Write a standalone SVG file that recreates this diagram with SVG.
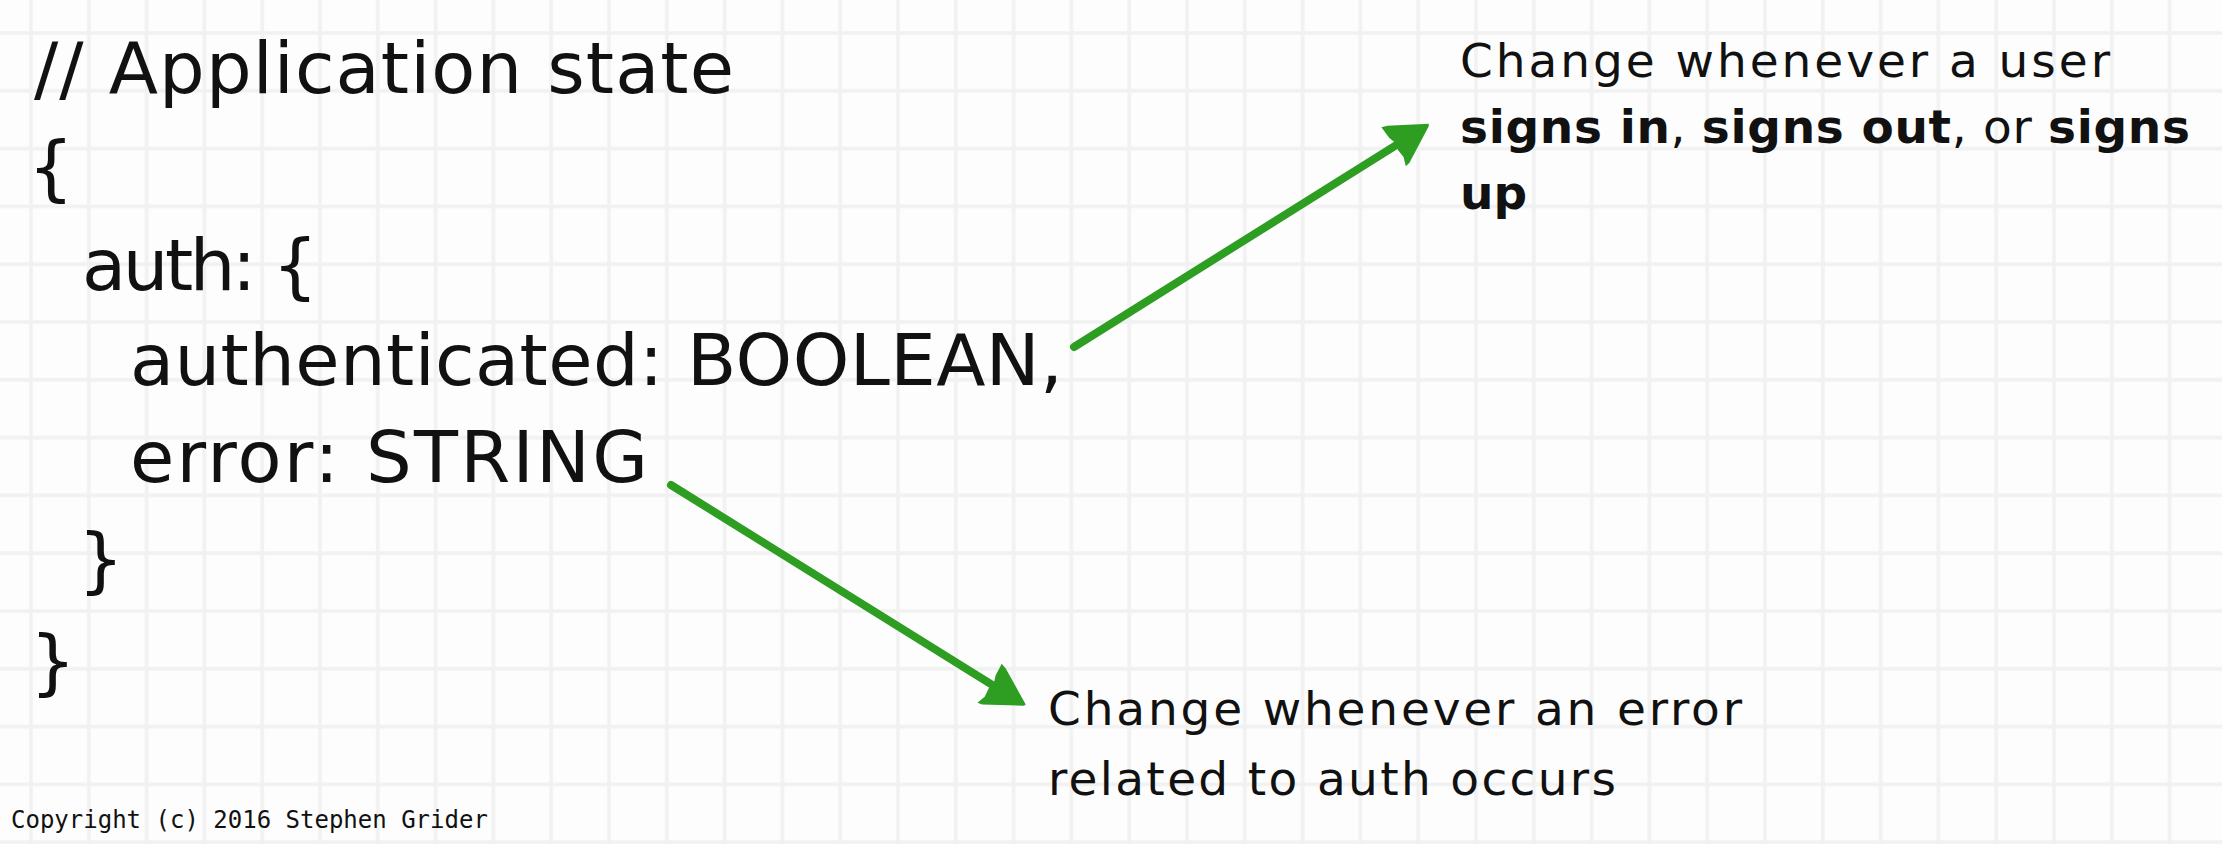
<svg xmlns="http://www.w3.org/2000/svg" width="2222" height="844" viewBox="0 0 2222 844">
<style>
.code{font-family:"DejaVu Sans","Liberation Sans",sans-serif;font-size:72px;fill:#111}
.note{font-family:"DejaVu Sans","Liberation Sans",sans-serif;font-size:47px;fill:#111}
.b{font-weight:bold}
.copy{font-family:"DejaVu Sans Mono","Liberation Mono",monospace;font-size:24px;fill:#111}
.arrow{stroke:#2e9e22;stroke-width:8;stroke-linecap:round;fill:none}
</style>
<defs>
<pattern id="grid" x="2.1" y="4.1" width="57.8" height="57.8" patternUnits="userSpaceOnUse">
<path d="M28.9 0V57.8M0 28.9H57.8" stroke="#f1f1f1" stroke-width="3.5" fill="none"/>
</pattern>
<marker id="head" viewBox="0 0 44 50" refX="14" refY="25" markerWidth="44" markerHeight="50" markerUnits="userSpaceOnUse" orient="auto">
<path d="M1 2 L7 4 L43 24 L42 26 L6 47 L1 48 L4 39 L3 30 L5 24 L2 15 Z" fill="#2e9e22"/>
</marker>
</defs>
<rect width="2222" height="844" fill="#fdfdfd"/>
<rect width="2222" height="844" fill="url(#grid)"/>

<g id="code">
<text class="code" x="34" y="93" textLength="700">// Application state</text>
<text class="code" x="28" y="192">{</text>
<text class="code" x="82" y="290" textLength="236">auth: {</text>
<text class="code" x="130" y="385" textLength="933">authenticated: BOOLEAN,</text>
<text class="code" x="130" y="482" textLength="518">error: STRING</text>
<text class="code" x="78" y="584">}</text>
<text class="code" x="30" y="686">}</text>
</g>

<g id="note-auth">
<text class="note" x="1460" y="77" textLength="650">Change whenever a user</text>
<text class="note" x="1460" y="143" textLength="730"><tspan class="b">signs in</tspan>, <tspan class="b">signs out</tspan>, or <tspan class="b">signs</tspan></text>
<text class="note b" x="1460" y="209">up</text>
</g>

<g id="note-error">
<text class="note" x="1048" y="725" textLength="694">Change whenever an error</text>
<text class="note" x="1048" y="795" textLength="568">related to auth occurs</text>
</g>

<g id="connectors">
<line class="arrow" x1="1074" y1="347" x2="1404.6" y2="139.9" marker-end="url(#head)"/>
<line class="arrow" x1="671" y1="485" x2="1000.6" y2="690.1" marker-end="url(#head)"/>
</g>

<text class="copy" x="11" y="828">Copyright (c) 2016 Stephen Grider</text>
</svg>
